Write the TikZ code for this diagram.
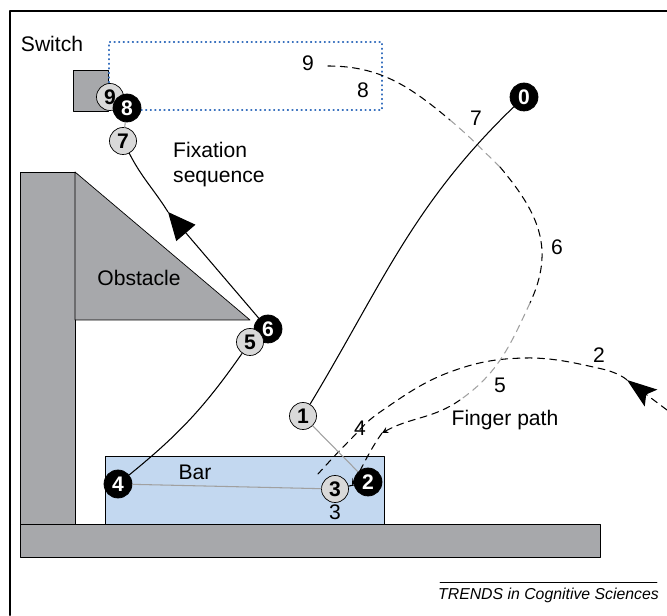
\documentclass[tikz,border=0pt]{standalone}
\usepackage{fontspec}
\setmainfont{Liberation Sans}
\usetikzlibrary{arrows.meta}
\definecolor{wallgray}{HTML}{A7A8AB}
\definecolor{barblue}{HTML}{C3D8F0}
\definecolor{dotblue}{HTML}{3A72BF}
\definecolor{fixgray}{HTML}{D9D9D9}
\definecolor{linegray}{HTML}{A0A0A0}
\tikzset{
	fixw/.style={circle, draw=black, fill=fixgray, inner sep=0pt, minimum size=0.54cm, font=\fontsize{12}{12}\selectfont\bfseries},
	fixb/.style={circle, draw=black, fill=black, text=white, inner sep=0pt, minimum size=0.56cm, font=\fontsize{12}{12}\selectfont\bfseries},
	fixline/.style={linegray, semithick},
	fdash/.style={semithick, dash pattern=on 4pt off 3pt},
	bigtip/.style={-{Triangle[length=0.55cm, width=0.5cm]}},
}
\begin{document}
\begin{tikzpicture}[line join=round, line cap=round, >=stealth, font=\fontsize{12}{14.2}\selectfont]
	\useasboundingbox (0,0) rectangle (13.34,12.3);
	\draw[line width=1.2pt] (0.2,0) -- (0.2,12.08) -- (13.34,12.08);
	\draw[fill=wallgray] (0.4,1.16) rectangle (12,1.82);
	\draw[fill=wallgray] (0.4,1.82) rectangle (1.5,8.86);
	\draw[fill=wallgray] (1.5,8.86) -- (1.5,5.9) -- (5,5.9) -- cycle;
	\draw[fill=barblue] (2.1,1.82) rectangle (7.68,3.18);
	\draw[fill=wallgray] (1.46,10.08) rectangle (2.16,10.9);
	\draw[dotblue, dotted, semithick] (2.18,10.1) rectangle (7.64,11.46);
	\node (switch) at (1.04,11.42) {Switch};
	\node (obstacle) at (2.78,6.74) {Obstacle};
	\node (bar) at (3.9,2.86) {Bar};
	\node[align=left, anchor=west] (fixlabel) at (3.34,9.0) {Fixation\\sequence};
	\node (fingerlabel) at (10.1,3.9) {Finger path};
	\draw[thin] (8.8,0.66) -- (13.14,0.66);
	\node[font=\fontsize{9}{11}\selectfont\itshape] (trends) at (10.97,0.4) {TRENDS in Cognitive Sciences};
	\foreach \n/\x/\y in {2/11.98/5.2, 3/6.7/2.06, 4/7.2/3.74, 5/10.0/4.6, 6/11.14/7.36, 7/9.52/9.94, 8/7.26/10.5, 9/6.16/11.04}{\node (p\n) at (\x,\y) {\n};}
	\path (13.34,4.1) coordinate (f0)
	(12.54,4.7) coordinate (ftip)
	(6.36,2.82) coordinate (f1)
	(6.56,10.98) coordinate (q0)
	(9.0,9.9) coordinate (q1)
	(10.0,8.96) coordinate (q2)
	(10.6,6.24) coordinate (q3)
	(9.2,4.3) coordinate (q4)
	(7.64,3.64) coordinate (q5)
	(7.04,2.6) coordinate (q6)
	(3.36,8.06) coordinate (fixtip)
	;
	\draw[fdash, -{Stealth[length=0.6cm, width=0.42cm, inset=0.12cm]}] (f0) -- (ftip);
	\draw[fdash] plot[smooth, tension=0.7] coordinates {(ftip) (12.0,4.93) (10.5,5.14) (9.0,4.86) (7.66,4.1) (7.0,3.5) (f1)};
	\draw[fdash] (q0) to[out=0, in=140] (q1);
	\draw[fdash, linegray] (q1) to[out=-40, in=136] (q2);
	\draw[fdash] (q2) to[out=-50, in=65, looseness=1.1] (q3);
	\draw[fdash, linegray] (q3) to[out=-115, in=35] (q4);
	\draw[fdash, ->] (q4) to[out=-145, in=29] (q5);
	\draw[fdash, ->] (q5) to[out=-125, in=60] (q6);
	\foreach \n/\s/\x/\y in {0/fixb/10.48/10.36, 1/fixw/6.06/3.98, 2/fixb/7.36/2.66, 3/fixw/6.70/2.52, 4/fixb/2.36/2.62, 6/fixb/5.36/5.72, 5/fixw/5.0/5.46, 7/fixw/2.46/9.48, 9/fixw/2.2/10.36, 8/fixb/2.54/10.14}{\node[\s] (c\n) at (\x,\y) {\n};}
	\draw[semithick] (c0) to[out=224, in=59] (c1);
	\draw[fixline] (c1) -- (c2);
	\draw[semithick] (c2) -- (c3);
	\draw[fixline] (c3) -- (c4);
	\draw[semithick] (c4) to[bend right=8] (c5);
	\draw[semithick, bigtip] (c6) -- (fixtip);
	\draw[semithick] (fixtip) to[out=122, in=-63] (c7);
	\draw[fixline] (c7) -- (c8);
\end{tikzpicture}
\end{document}
